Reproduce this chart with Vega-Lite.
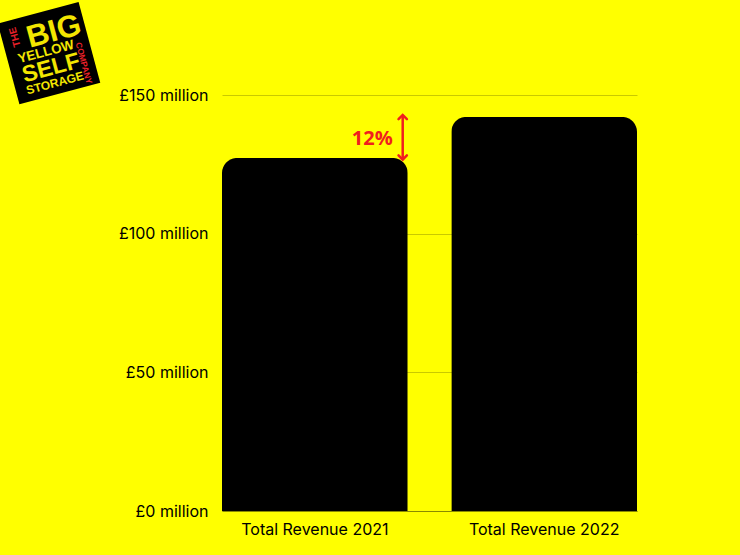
{
  "$schema": "https://vega.github.io/schema/vega-lite/v6.json",
  "width": 415,
  "height": 416,
  "autosize": {"type": "none"},
  "padding": {"left": 222, "top": 95, "right": 103, "bottom": 44},
  "background": "#ffff00",
  "config": {
    "view": {"stroke": null},
    "font": "Inter",
    "axis": {"labelFont": "Inter", "labelColor": "#000000", "labelFontSize": 16}
  },
  "resolve": {"scale": {"x": "independent"}, "axis": {"x": "independent"}},
  "layer": [
    {
      "data": {"values": [
        {"label": "Total Revenue 2021", "revenue": 127.3},
        {"label": "Total Revenue 2022", "revenue": 142.1}
      ]},
      "encoding": {
        "x": {"field": "label", "type": "nominal",
          "scale": {"paddingInner": 0.19, "paddingOuter": 0, "domain": ["Total Revenue 2021", "Total Revenue 2022"]},
          "axis": {"title": null, "labelAngle": 0, "ticks": false, "domain": true, "domainColor": "#8a8a00", "domainWidth": 1, "labelPadding": 10, "grid": false}},
        "y": {"field": "revenue", "type": "quantitative",
          "scale": {"domain": [0, 150], "nice": false},
          "axis": {"title": null, "values": [0, 50, 100, 150], "labelExpr": "'£' + datum.value + ' million'", "ticks": false, "domain": false, "grid": true, "gridColor": "#c9c900", "gridWidth": 1, "labelPadding": 14}}
      },
      "layer": [
        {"mark": {"type": "bar", "color": "#000000", "cornerRadiusTopLeft": 15, "cornerRadiusTopRight": 15}},
        {
          "data": {"values": [{"label": "Total Revenue 2021", "low": 126.7, "high": 142.8, "mid": 134, "note": "12%"}]},
          "layer": [
            {"mark": {"type": "rule", "color": "#f01e1e", "strokeWidth": 2.5},
              "encoding": {"x": {"field": "label", "type": "nominal", "bandPosition": 0.973}, "y": {"field": "low", "type": "quantitative"}, "y2": {"field": "high"}}},
            {"mark": {"type": "point", "shape": "M-1,1L0,0L1,1", "filled": false, "color": "#f01e1e", "strokeWidth": 2.5, "size": 70, "strokeCap": "round", "opacity": 1},
              "encoding": {"x": {"field": "label", "type": "nominal", "bandPosition": 0.973}, "y": {"field": "high", "type": "quantitative"}}},
            {"mark": {"type": "point", "shape": "M-1,-1L0,0L1,-1", "filled": false, "color": "#f01e1e", "strokeWidth": 2.5, "size": 70, "strokeCap": "round", "opacity": 1},
              "encoding": {"x": {"field": "label", "type": "nominal", "bandPosition": 0.973}, "y": {"field": "low", "type": "quantitative"}}},
            {"mark": {"type": "text", "color": "#f01e1e", "fontSize": 20, "fontWeight": "bold", "font": "Open Sans", "align": "right", "baseline": "middle", "dx": -10},
              "encoding": {"x": {"field": "label", "type": "nominal", "bandPosition": 0.973}, "y": {"field": "mid", "type": "quantitative"}, "text": {"field": "note"}}}
          ]
        }
      ]
    },
    {
      "data": {"values": [{"t": "logo"}]},
      "encoding": {
        "x": {"type": "quantitative", "scale": {"domain": [0, 415], "nice": false, "zero": false}, "axis": null}
      },
      "layer": [
        {
          "mark": {"type": "point", "shape": "square", "filled": true, "color": "#000000", "size": 7000, "angle": -15, "opacity": 1},
          "encoding": {"x": {"datum": -173, "type": "quantitative", "scale": {"domain": [0, 415], "nice": false, "zero": false}, "axis": null}, "y": {"datum": 165.1, "type": "quantitative"}}
        },
        {
          "data": {"values": [{"t": "BIG"}]},
          "mark": {"type": "text", "color": "#f3e600", "font": "Liberation Sans", "fontWeight": "bold", "fontSize": 31, "angle": -15, "align": "center", "baseline": "middle"},
          "encoding": {"x": {"datum": -168, "type": "quantitative"}, "y": {"datum": 172.7, "type": "quantitative"}, "text": {"field": "t"}}
        },
        {
          "data": {"values": [{"t": "YELLOW"}]},
          "mark": {"type": "text", "color": "#f3e600", "font": "Liberation Sans", "fontWeight": "bold", "fontSize": 13.5, "angle": -15, "align": "center", "baseline": "middle"},
          "encoding": {"x": {"datum": -176, "type": "quantitative"}, "y": {"datum": 165.5, "type": "quantitative"}, "text": {"field": "t"}}
        },
        {
          "data": {"values": [{"t": "SELF"}]},
          "mark": {"type": "text", "color": "#f3e600", "font": "Liberation Sans", "fontWeight": "bold", "fontSize": 23, "angle": -15, "align": "center", "baseline": "middle"},
          "encoding": {"x": {"datum": -171, "type": "quantitative"}, "y": {"datum": 159.7, "type": "quantitative"}, "text": {"field": "t"}}
        },
        {
          "data": {"values": [{"t": "STORAGE"}]},
          "mark": {"type": "text", "color": "#f3e600", "font": "Liberation Sans", "fontWeight": "bold", "fontSize": 12, "angle": -15, "align": "center", "baseline": "middle"},
          "encoding": {"x": {"datum": -167, "type": "quantitative"}, "y": {"datum": 154.3, "type": "quantitative"}, "text": {"field": "t"}}
        },
        {
          "data": {"values": [{"t": "THE"}]},
          "mark": {"type": "text", "color": "#e8202a", "font": "Liberation Sans", "fontWeight": "bold", "fontSize": 10, "angle": -105, "align": "center", "baseline": "middle"},
          "encoding": {"x": {"datum": -207, "type": "quantitative"}, "y": {"datum": 170.9, "type": "quantitative"}, "text": {"field": "t"}}
        },
        {
          "data": {"values": [{"t": "COMPANY"}]},
          "mark": {"type": "text", "color": "#e8202a", "font": "Liberation Sans", "fontWeight": "bold", "fontSize": 8.5, "angle": 75, "align": "center", "baseline": "middle"},
          "encoding": {"x": {"datum": -138, "type": "quantitative"}, "y": {"datum": 161.5, "type": "quantitative"}, "text": {"field": "t"}}
        }
      ]
    }
  ]
}
